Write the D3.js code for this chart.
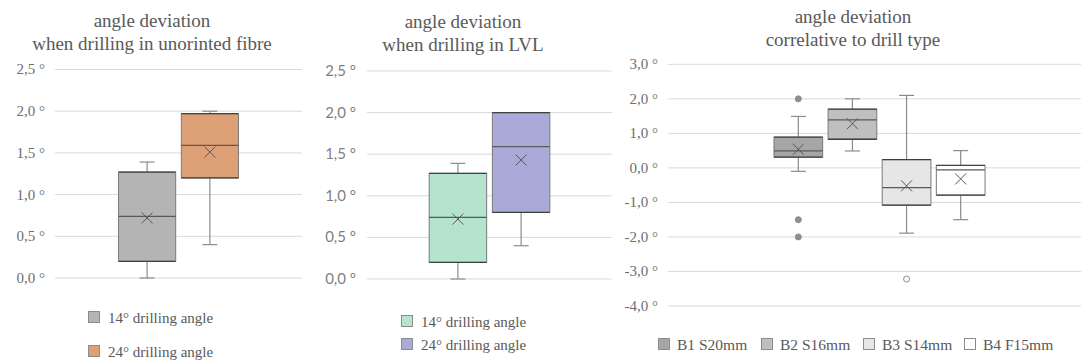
<!DOCTYPE html>
<html>
<head>
<meta charset="utf-8">
<script src="https://cdn.jsdelivr.net/npm/d3@7"></script>
<style>
  html, body { margin: 0; padding: 0; background: #fff; }
  svg { display: block; }
</style>
</head>
<body>
<svg id="chart" width="1081" height="361"></svg>
<script>
// Box statistics: [min whisker, Q1, median, Q3, max whisker, mean]
const fibreSeries = ["14° drilling angle", "24° drilling angle"];
const fibreStats = [
  [0.0, 0.2, 0.74, 1.27, 1.39, 0.72],
  [0.4, 1.2, 1.59, 1.97, 2.0, 1.51]
];
const fibreOutliers = [[], []];
const fibreTicks = [0, 0.5, 1.0, 1.5, 2.0, 2.5];

const lvlSeries = ["14° drilling angle", "24° drilling angle"];
const lvlStats = [
  [0.0, 0.2, 0.74, 1.27, 1.39, 0.72],
  [0.4, 0.8, 1.59, 2.0, 2.0, 1.43]
];
const lvlOutliers = [[], []];
const lvlTicks = [0, 0.5, 1.0, 1.5, 2.0, 2.5];

const drillSeries = ["B1 S20mm", "B2 S16mm", "B3 S14mm", "B4 F15mm"];
const drillStats = [
  [-0.1, 0.31, 0.49, 0.89, 1.49, 0.54],
  [0.49, 0.83, 1.39, 1.70, 2.0, 1.28],
  [-1.89, -1.08, -0.57, 0.24, 2.1, -0.52],
  [-1.5, -0.79, -0.06, 0.07, 0.5, -0.32]
];
const drillOutliers = [[2.0, -1.5, -2.0], [], [-3.22], []];
const drillTicks = [-4, -3, -2, -1, 0, 1, 2, 3];

const svg = d3.select("#chart");
const fmt = v => d3.format(".1f")(v).replace(".", ",").replace("−", "-") + " °";

function drawPanel(cfg) {
  const g = svg.append("g");
  const y = d3.scaleLinear().domain(cfg.domain).range([cfg.bottom, cfg.top]);

  // gridlines
  g.selectAll("line.grid").data(cfg.ticks).join("line")
    .attr("x1", cfg.left).attr("x2", cfg.right)
    .attr("y1", d => y(d)).attr("y2", d => y(d))
    .attr("stroke", "#d9d9d9").attr("stroke-width", 1);

  // tick labels
  g.selectAll("text.tick").data(cfg.ticks).join("text")
    .attr("x", cfg.labelX).attr("y", d => y(d)).attr("dy", "0.33em")
    .attr("text-anchor", "end")
    .attr("font-family", cfg.tickFont).attr("font-size", cfg.tickSize)
    .attr("fill", cfg.tickColor)
    .text(fmt);

  // titles
  g.selectAll("text.title").data(cfg.title).join("text")
    .attr("x", cfg.titleX).attr("y", (d, i) => cfg.titleY + i * 23)
    .attr("text-anchor", "middle")
    .attr("font-family", "'Liberation Serif', 'Times New Roman', serif")
    .attr("font-size", 19).attr("fill", "#595959")
    .text(d => d);

  // category band and series sub-bands
  const cat = d3.scaleBand().domain(["group"]).range([cfg.left, cfg.bandRight])
    .paddingInner(0).paddingOuter(cfg.outer);
  const x = d3.scaleBand().domain(cfg.series).range([cat("group"), cat("group") + cat.bandwidth()])
    .paddingInner(cfg.inner);
  const bw = x.bandwidth();
  const cap = 15;

  cfg.series.forEach((name, i) => {
    const [lo, q1, med, q3, hi, mean] = cfg.stats[i];
    const x0 = x(name), cx = x0 + bw / 2;
    const col = cfg.colors[i];
    const bg = g.append("g");
    // whiskers
    bg.append("line").attr("x1", cx).attr("x2", cx).attr("y1", y(hi)).attr("y2", y(q3))
      .attr("stroke", "#8c8c8c").attr("stroke-width", 1.2);
    bg.append("line").attr("x1", cx).attr("x2", cx).attr("y1", y(q1)).attr("y2", y(lo))
      .attr("stroke", "#8c8c8c").attr("stroke-width", 1.2);
    bg.append("line").attr("x1", cx - cap / 2).attr("x2", cx + cap / 2).attr("y1", y(hi)).attr("y2", y(hi))
      .attr("stroke", "#8c8c8c").attr("stroke-width", 1.2);
    bg.append("line").attr("x1", cx - cap / 2).attr("x2", cx + cap / 2).attr("y1", y(lo)).attr("y2", y(lo))
      .attr("stroke", "#8c8c8c").attr("stroke-width", 1.2);
    // box
    bg.append("rect").attr("x", x0).attr("width", bw)
      .attr("y", y(q3)).attr("height", y(q1) - y(q3))
      .attr("fill", col).attr("stroke", "#7a7a7a").attr("stroke-width", 1);
    [q1, q3].forEach(v => bg.append("line").attr("x1", x0).attr("x2", x0 + bw)
      .attr("y1", y(v)).attr("y2", y(v)).attr("stroke", "#404040").attr("stroke-width", 1.3));
    // median
    bg.append("line").attr("x1", x0).attr("x2", x0 + bw).attr("y1", y(med)).attr("y2", y(med))
      .attr("stroke", "#595959").attr("stroke-width", 1.3);
    // mean marker
    const m = 5.5, my = y(mean);
    bg.append("path")
      .attr("d", `M${cx - m},${my - m}L${cx + m},${my + m}M${cx - m},${my + m}L${cx + m},${my - m}`)
      .attr("stroke", "#595959").attr("stroke-width", 1).attr("fill", "none");
    // outliers
    bg.selectAll("circle").data(cfg.outliers[i]).join("circle")
      .attr("cx", cx).attr("cy", d => y(d)).attr("r", 3)
      .attr("fill", cfg.outlierFill[i]).attr("stroke", "#8c8c8c").attr("stroke-width", 1);
  });

  // legend
  const leg = g.selectAll("g.leg").data(cfg.series).join("g")
    .attr("transform", (d, i) => `translate(${cfg.legX[i]},${cfg.legY[i]})`);
  leg.append("rect").attr("x", 0.5).attr("y", 0.5).attr("width", 11).attr("height", 11)
    .attr("fill", (d, i) => cfg.colors[i]).attr("stroke", "#8c8c8c").attr("stroke-width", 1);
  leg.append("text").attr("x", cfg.legText).attr("y", 11.5)
    .attr("font-family", "'Liberation Serif', 'Times New Roman', serif")
    .attr("font-size", cfg.legSize).attr("fill", "#595959")
    .text(d => d);
}

const serif = "'Liberation Serif', 'Times New Roman', serif";

drawPanel({
  title: ["angle deviation", "when drilling in unorinted fibre"],
  titleX: 152, titleY: 27,
  series: fibreSeries, stats: fibreStats, outliers: fibreOutliers, outlierFill: ["#b3b3b3", "#dba078"],
  colors: ["#b4b4b4", "#dc9f76"],
  domain: [0, 2.5], ticks: fibreTicks, top: 69.5, bottom: 278,
  left: 55, right: 302, bandRight: 302, outer: 0.53, inner: 0.09,
  labelX: 45, tickFont: serif, tickSize: 15, tickColor: "#6e6e6e",
  legX: [88, 88], legY: [311, 345], legText: 20, legSize: 15
});

drawPanel({
  title: ["angle deviation", "when drilling in LVL"],
  titleX: 463, titleY: 28,
  series: lvlSeries, stats: lvlStats, outliers: lvlOutliers, outlierFill: ["#b5e3cc", "#a9aad8"],
  colors: ["#b5e3cc", "#a9aad8"],
  domain: [0, 2.5], ticks: lvlTicks, top: 71, bottom: 279,
  left: 367, right: 612, bandRight: 612, outer: 0.515, inner: 0.09,
  labelX: 356, tickFont: "Lato, 'Open Sans', sans-serif", tickSize: 15, tickColor: "#7f7f7f",
  legX: [401, 401], legY: [315, 338], legText: 20, legSize: 15
});

drawPanel({
  title: ["angle deviation", "correlative to drill type"],
  titleX: 853, titleY: 23,
  series: drillSeries, stats: drillStats, outliers: drillOutliers,
  outlierFill: ["#8f8f8f", "#bfbfbf", "#ffffff", "#ffffff"],
  colors: ["#a6a6a6", "#bfbfbf", "#e6e6e6", "#ffffff"],
  domain: [-4, 3], ticks: drillTicks, top: 64.3, bottom: 306,
  left: 668, right: 1081, bandRight: 1091, outer: 0.502, inner: 0.1,
  labelX: 658, tickFont: serif, tickSize: 15, tickColor: "#6e6e6e",
  legX: [658, 761, 863, 964], legY: [338, 338, 338, 338], legText: 19, legSize: 15.5
});
</script>
</body>
</html>
